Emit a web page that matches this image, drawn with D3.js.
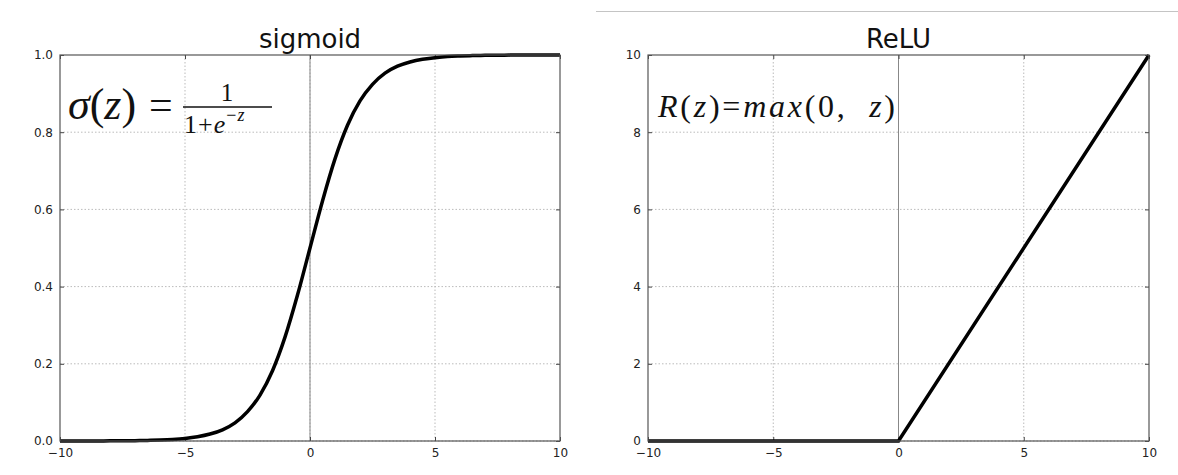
<!DOCTYPE html>
<html lang="en">
<head>
    <meta charset="utf-8">
    <title>sigmoid / ReLU</title>
    <style type="text/css">
        body { margin: 0; background: #fff; }
        .chart .tick text { font-family: "DejaVu Sans", sans-serif; font-size: 12px; fill: #222; }
        .chart .tick line { stroke: #444; }
        .chart .domain { display: none; }
        .chart .grid line { stroke: #bbb; stroke-width: 1; stroke-dasharray: 1.5,2; }
        .chart .frame { fill: none; stroke: #555; stroke-width: 1.2; }
        .chart .zero { stroke: #888; stroke-width: 1; }
        .chart .title { font-family: "DejaVu Sans", sans-serif; font-size: 26px; fill: #111; text-anchor: middle; }
        .chart .curve { fill: none; stroke: #000; stroke-width: 3.5; }
        .chart .math { font-family: "Liberation Serif", "DejaVu Serif", serif; fill: #111; }
        .chart .it { font-style: italic; }
    </style>
</head>
<body>
    <svg class="chart" width="1178" height="475"></svg>

    <script src="https://cdn.jsdelivr.net/npm/d3@7"></script>
    <script>
        // data
        var sigZ = [-10, -9.5, -9, -8.5, -8, -7.5, -7, -6.5, -6, -5.5, -5, -4.5, -4, -3.5, -3, -2.5, -2, -1.5, -1, -0.5,
                    0, 0.5, 1, 1.5, 2, 2.5, 3, 3.5, 4, 4.5, 5, 5.5, 6, 6.5, 7, 7.5, 8, 8.5, 9, 9.5, 10];
        var sigVal = [0.00005, 0.00007, 0.00012, 0.0002, 0.00034, 0.00055, 0.0009, 0.0015, 0.0025, 0.0041,
                      0.0067, 0.011, 0.018, 0.029, 0.047, 0.076, 0.119, 0.182, 0.269, 0.378,
                      0.5, 0.622, 0.731, 0.818, 0.881, 0.924, 0.953, 0.971, 0.982, 0.989,
                      0.993, 0.996, 0.9975, 0.9985, 0.9991, 0.9994, 0.9997, 0.9998, 0.9999, 0.99993, 0.99995];
        var reluZ = [-10, 0, 10];
        var reluVal = [0, 0, 10];
        var xTicks = [-10, -5, 0, 5, 10];
        var sigYTicks = [0, 0.2, 0.4, 0.6, 0.8, 1.0];
        var reluYTicks = [0, 2, 4, 6, 8, 10];

        var svg = d3.select('.chart');
        var top0 = 55, bottom0 = 441;

        // thin grey rule at the top (notebook cell border)
        svg.append('line')
            .attr('x1', 596).attr('x2', 1178)
            .attr('y1', 11.5).attr('y2', 11.5)
            .attr('stroke', '#c4c4c4').attr('stroke-width', 1.2);

        function panel(opt) {
            var x = d3.scaleLinear().domain([-10, 10]).range([opt.left, opt.right]);
            var y = d3.scaleLinear().domain(opt.yDomain).range([bottom0, top0]);
            var g = svg.append('g');

            // dotted grid
            var grid = g.append('g').attr('class', 'grid');
            grid.selectAll('.gx').data(xTicks.slice(1, -1)).enter().append('line')
                .attr('x1', function(d){ return x(d); }).attr('x2', function(d){ return x(d); })
                .attr('y1', top0).attr('y2', bottom0);
            grid.selectAll('.gy').data(opt.yTicks.slice(0, -1)).enter().append('line')
                .attr('x1', opt.left).attr('x2', opt.right)
                .attr('y1', function(d){ return y(d); }).attr('y2', function(d){ return y(d); });

            // vertical line at z = 0
            g.append('line').attr('class', 'zero')
                .attr('x1', x(0)).attr('x2', x(0))
                .attr('y1', top0).attr('y2', bottom0);

            // axes, ticks inside
            g.append('g').attr('transform', 'translate(0,' + bottom0 + ')')
                .call(d3.axisBottom(x).tickValues(xTicks).tickSize(-4).tickPadding(7));
            g.append('g').attr('transform', 'translate(0,' + top0 + ')')
                .call(d3.axisTop(x).tickValues(xTicks).tickSize(-4).tickFormat(''));
            g.append('g').attr('transform', 'translate(' + opt.left + ',0)')
                .call(d3.axisLeft(y).tickValues(opt.yTicks).tickSize(-4).tickPadding(7).tickFormat(opt.fmt));
            g.append('g').attr('transform', 'translate(' + opt.right + ',0)')
                .call(d3.axisRight(y).tickValues(opt.yTicks).tickSize(-4).tickFormat(''));

            // curve
            var line = d3.line()
                .x(function(d){ return x(d[0]); })
                .y(function(d){ return y(d[1]); })
                .curve(opt.curve);
            g.append('path').attr('class', 'curve')
                .datum(d3.zip(opt.zs, opt.vals))
                .attr('stroke-linejoin', 'miter')
                .attr('d', line);

            g.append('rect').attr('class', 'frame')
                .attr('x', opt.left).attr('y', top0)
                .attr('width', opt.right - opt.left).attr('height', bottom0 - top0);

            g.append('text').attr('class', 'title')
                .attr('x', (opt.left + opt.right) / 2).attr('y', 48)
                .text(opt.title);
            return g;
        }

        var gs = panel({left: 60, right: 560, yDomain: [0, 1], yTicks: sigYTicks, fmt: d3.format('.1f'),
                        zs: sigZ, vals: sigVal, title: 'sigmoid', curve: d3.curveMonotoneX});
        var gr = panel({left: 648, right: 1149, yDomain: [0, 10], yTicks: reluYTicks, fmt: d3.format('d'),
                        zs: reluZ, vals: reluVal, title: 'ReLU', curve: d3.curveLinear});

        // sigmoid formula
        var f1 = gs.append('text').attr('class', 'math').attr('x', 68).attr('y', 119)
            .style('font-size', '44px');
        f1.append('tspan').attr('class', 'it').text('σ');
        f1.append('tspan').text('(');
        f1.append('tspan').attr('class', 'it').text('z');
        f1.append('tspan').text(')');
        gs.append('text').attr('class', 'math').attr('x', 149).attr('y', 119)
            .style('font-size', '42px').text('=');
        gs.append('text').attr('class', 'math').attr('x', 227).attr('y', 101)
            .attr('text-anchor', 'middle').style('font-size', '25px').text('1');
        gs.append('line').attr('x1', 183).attr('x2', 272).attr('y1', 107).attr('y2', 107)
            .attr('stroke', '#111').attr('stroke-width', 1.6);
        var den = gs.append('text').attr('class', 'math').attr('x', 184).attr('y', 133)
            .style('font-size', '26px');
        den.append('tspan').text('1');
        den.append('tspan').attr('dx', 1).text('+');
        den.append('tspan').attr('class', 'it').attr('dx', 1).text('e');
        den.append('tspan').attr('dx', 1).attr('dy', -12).style('font-size', '18px').text('−');
        den.append('tspan').attr('class', 'it').attr('dx', 1).style('font-size', '18px').text('z');

        // ReLU formula
        var f2 = gr.append('text').attr('class', 'math').attr('x', 658).attr('y', 117)
            .attr('xml:space', 'preserve').style('font-size', '32px')
            .attr('textLength', 237).attr('lengthAdjust', 'spacing');
        f2.append('tspan').attr('class', 'it').text('R');
        f2.append('tspan').text('(');
        f2.append('tspan').attr('class', 'it').text('z');
        f2.append('tspan').text(')=');
        f2.append('tspan').attr('class', 'it').text('max');
        f2.append('tspan').text('(0,  ');
        f2.append('tspan').attr('class', 'it').text('z');
        f2.append('tspan').text(')');
    </script>
</body>
</html>
